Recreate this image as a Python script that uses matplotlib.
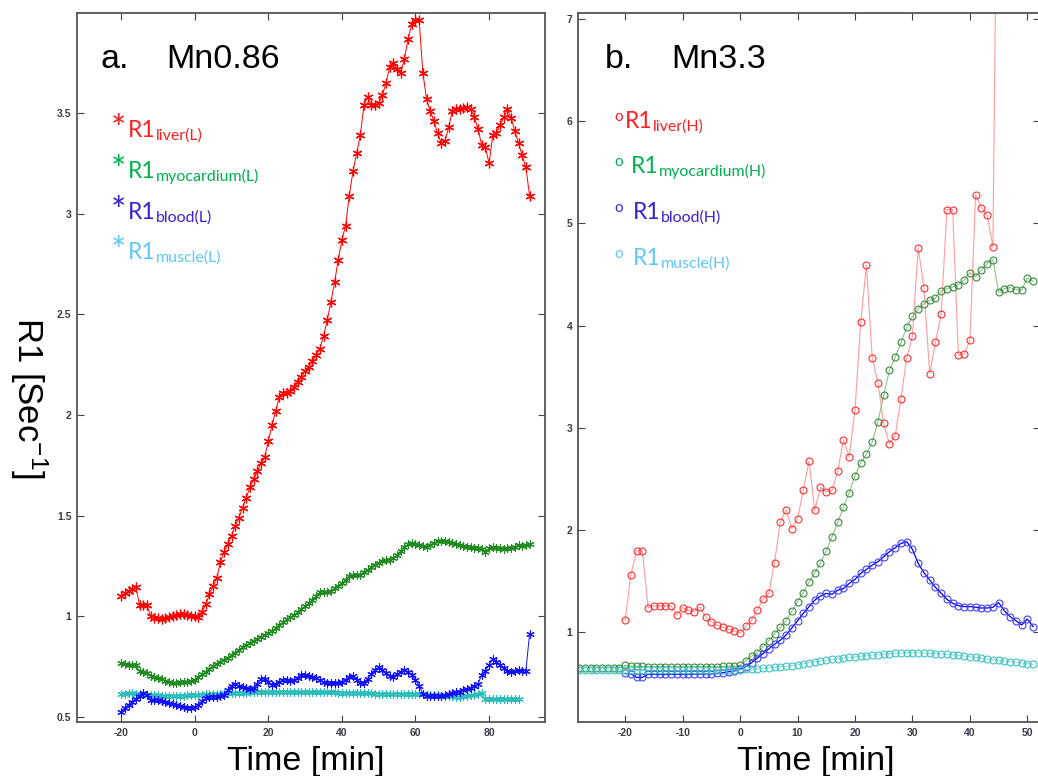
import numpy as np
import matplotlib
matplotlib.use("Agg")
import matplotlib.pyplot as plt

plt.rcParams['font.family'] = ['Liberation Sans', 'DejaVu Sans']
plt.rcParams['mathtext.default'] = 'regular'
plt.rcParams['axes.unicode_minus'] = False

# ---- Mn 0.86 (low dose), one sample per minute ----
t_low = np.arange(-20, 92)
t_low_muscle = np.arange(-20, 89)

liver_L = [1.10, 1.115, 1.125, 1.135, 1.145, 1.055, 1.055, 1.055, 1.00, 0.99,
           0.99, 0.985, 0.99, 0.995, 1.0, 1.005, 1.01, 1.01, 1.005, 1.0,
           1.0, 0.995, 1.02, 1.06, 1.11, 1.15, 1.19, 1.27, 1.32, 1.36,
           1.40, 1.45, 1.49, 1.54, 1.59, 1.64, 1.68, 1.72, 1.76, 1.79,
           1.87, 1.95, 2.02, 2.09, 2.11, 2.11, 2.12, 2.14, 2.165, 2.19,
           2.22, 2.24, 2.27, 2.30, 2.33, 2.39, 2.47, 2.56, 2.66, 2.77,
           2.87, 2.94, 3.09, 3.21, 3.30, 3.39, 3.54, 3.58, 3.54, 3.54,
           3.55, 3.59, 3.65, 3.73, 3.75, 3.72, 3.70, 3.77, 3.87, 3.94,
           3.96, 3.96, 3.70, 3.57, 3.51, 3.46, 3.40, 3.35, 3.36, 3.43,
           3.51, 3.52, 3.52, 3.525, 3.53, 3.52, 3.48, 3.42, 3.34, 3.33,
           3.25, 3.39, 3.40, 3.44, 3.48, 3.52, 3.475, 3.41, 3.35, 3.29,
           3.23, 3.09]

myocardium_L = [0.767, 0.763, 0.76, 0.76, 0.757, 0.727, 0.722, 0.72, 0.705, 0.70,
                0.695, 0.69, 0.68, 0.672, 0.67, 0.67, 0.672, 0.673, 0.675, 0.678,
                0.684, 0.698, 0.712, 0.725, 0.74, 0.753, 0.765, 0.775, 0.785, 0.795,
                0.808, 0.82, 0.834, 0.846, 0.857, 0.868, 0.877, 0.888, 0.898, 0.907,
                0.916, 0.927, 0.94, 0.955, 0.97, 0.985, 0.996, 1.008, 1.02, 1.035,
                1.05, 1.065, 1.081, 1.10, 1.12, 1.122, 1.12, 1.125, 1.14, 1.152,
                1.165, 1.18, 1.198, 1.205, 1.203, 1.207, 1.22, 1.23, 1.245, 1.257,
                1.266, 1.275, 1.28, 1.28, 1.29, 1.304, 1.325, 1.346, 1.357, 1.362,
                1.36, 1.355, 1.348, 1.346, 1.355, 1.365, 1.372, 1.375, 1.372, 1.368,
                1.362, 1.358, 1.352, 1.348, 1.346, 1.343, 1.34, 1.338, 1.334, 1.32,
                1.338, 1.342, 1.34, 1.338, 1.336, 1.338, 1.34, 1.345, 1.355, 1.35,
                1.352, 1.36]

blood_L = [0.527, 0.545, 0.56, 0.576, 0.59, 0.605, 0.618, 0.61, 0.585, 0.584,
           0.584, 0.578, 0.572, 0.568, 0.563, 0.558, 0.553, 0.548, 0.546, 0.546,
           0.548, 0.56, 0.578, 0.593, 0.60, 0.60, 0.60, 0.602, 0.61, 0.635,
           0.655, 0.665, 0.655, 0.648, 0.643, 0.64, 0.645, 0.665, 0.69, 0.69,
           0.672, 0.659, 0.665, 0.675, 0.684, 0.684, 0.678, 0.684, 0.695, 0.708,
           0.708, 0.703, 0.70, 0.692, 0.684, 0.675, 0.667, 0.667, 0.667, 0.67,
           0.675, 0.685, 0.697, 0.703, 0.684, 0.67, 0.667, 0.69, 0.715, 0.735,
           0.747, 0.735, 0.717, 0.705, 0.70, 0.712, 0.725, 0.733, 0.725, 0.708,
           0.684, 0.655, 0.615, 0.604, 0.604, 0.604, 0.605, 0.606, 0.608, 0.612,
           0.618, 0.622, 0.626, 0.632, 0.638, 0.645, 0.655, 0.665, 0.71, 0.73,
           0.76, 0.786, 0.775, 0.758, 0.742, 0.728, 0.725, 0.728, 0.733, 0.73,
           0.73, 0.912]

muscle_L = [0.615, 0.616, 0.617, 0.617, 0.616, 0.614, 0.612, 0.61, 0.609, 0.608,
            0.607, 0.606, 0.605, 0.604, 0.604, 0.604, 0.605, 0.606, 0.607, 0.608,
            0.609, 0.61, 0.611, 0.612, 0.613, 0.614, 0.615, 0.616, 0.617, 0.618,
            0.619, 0.62, 0.62, 0.621, 0.621, 0.622, 0.622, 0.622, 0.623, 0.623,
            0.623, 0.623, 0.624, 0.624, 0.624, 0.624, 0.624, 0.624, 0.624, 0.624,
            0.624, 0.624, 0.623, 0.623, 0.623, 0.622, 0.622, 0.622, 0.622, 0.621,
            0.621, 0.62, 0.62, 0.619, 0.619, 0.618, 0.618, 0.617, 0.617, 0.616,
            0.616, 0.616, 0.615, 0.615, 0.615, 0.615, 0.614, 0.614, 0.614, 0.614,
            0.613, 0.613, 0.612, 0.611, 0.61, 0.609, 0.608, 0.606, 0.604, 0.603,
            0.602, 0.601, 0.601, 0.602, 0.604, 0.607, 0.611, 0.615, 0.618, 0.588,
            0.587, 0.587, 0.587, 0.587, 0.587, 0.587, 0.587, 0.587, 0.588]

# ---- Mn 3.3 (high dose) ----
t_liver_H = np.arange(-20, 46)
t_myo_H = np.arange(-28, 52)
t_blood_H = np.arange(-20, 52)
t_muscle_H = np.arange(-28, 52)

liver_H = [1.117, 1.558, 1.796, 1.796, 1.238, 1.257, 1.257, 1.26, 1.257, 1.166,
           1.24, 1.215, 1.2, 1.247, 1.15, 1.101, 1.069, 1.046, 1.03, 1.013,
           0.987, 1.059, 1.117, 1.215, 1.32, 1.378, 1.68, 2.079, 2.2, 2.014,
           2.103, 2.389, 2.673, 2.194, 2.416, 2.373, 2.389, 2.578, 2.879, 2.716,
           3.17, 4.036, 4.591, 3.684, 3.443, 3.042, 2.84, 2.92, 3.286, 3.684,
           3.896, 4.764, 4.369, 3.531, 3.835, 4.109, 5.136, 5.136, 3.71, 3.726,
           3.857, 5.283, 5.155, 5.08, 4.77, 10.2]

myocardium_H = [0.651, 0.651, 0.651, 0.651, 0.651, 0.651, 0.651, 0.651,
                0.674, 0.668, 0.665, 0.664, 0.663, 0.662, 0.662, 0.662, 0.661, 0.661,
                0.661, 0.661, 0.661, 0.662, 0.662, 0.663, 0.663, 0.664, 0.665, 0.668,
                0.674, 0.72, 0.765, 0.8, 0.856, 0.915, 0.98, 1.046, 1.111, 1.205,
                1.296, 1.385, 1.489, 1.58, 1.678, 1.795, 1.932, 2.073, 2.226, 2.366,
                2.526, 2.657, 2.742, 2.862, 3.058, 3.319, 3.564, 3.688, 3.835, 3.982,
                4.092, 4.167, 4.216, 4.249, 4.272, 4.337, 4.363, 4.379, 4.402, 4.444,
                4.519, 4.477, 4.548, 4.607, 4.646, 4.33, 4.363, 4.372, 4.353, 4.346,
                4.467, 4.434]

blood_H = [0.596, 0.59, 0.557, 0.557, 0.586, 0.586, 0.586, 0.586, 0.586, 0.586,
           0.586, 0.587, 0.588, 0.589, 0.59, 0.592, 0.596, 0.603, 0.612, 0.62,
           0.634, 0.662, 0.7, 0.745, 0.79, 0.835, 0.88, 0.92, 0.97, 1.04,
           1.11, 1.183, 1.248, 1.313, 1.353, 1.378, 1.37, 1.411, 1.427, 1.476,
           1.516, 1.574, 1.614, 1.656, 1.689, 1.738, 1.787, 1.826, 1.868, 1.885,
           1.81, 1.673, 1.582, 1.51, 1.438, 1.38, 1.321, 1.282, 1.259, 1.25,
           1.25, 1.243, 1.236, 1.236, 1.243, 1.288, 1.21, 1.151, 1.112, 1.07,
           1.128, 1.053]

muscle_H = [0.628] * 28 + [
    0.632, 0.635, 0.638, 0.642, 0.646, 0.651, 0.656, 0.661, 0.666, 0.672,
    0.681, 0.69, 0.699, 0.708, 0.717, 0.725, 0.732, 0.739, 0.746, 0.752,
    0.758, 0.764, 0.769, 0.774, 0.779, 0.784, 0.788, 0.792, 0.796, 0.798,
    0.798, 0.797, 0.795, 0.793, 0.79, 0.787, 0.783, 0.778, 0.772, 0.766,
    0.759, 0.752, 0.745, 0.738, 0.731, 0.724, 0.717, 0.71, 0.704, 0.698,
    0.692, 0.684]

W, H = 1038, 776
fig = plt.figure(figsize=(W / 100, H / 100), dpi=100)


def fx(px):
    return px / W


def fy(py):
    return 1 - py / H


ax1 = fig.add_axes([fx(77), fy(722), 468 / W, 709 / H])
ax2 = fig.add_axes([fx(578), fy(722), 462 / W, 709 / H])

# matlab-like asterisk: six thin arms
ast = (6, 2, 0)

# left panel
ax1.plot(t_low, liver_L, '-', color='#ff0000', lw=0.7, marker=ast, ms=7, mew=0.9)
ax1.plot(t_low, myocardium_L, '-', color='#1f8a1f', lw=0.7, marker=ast, ms=6, mew=0.8)
ax1.plot(t_low_muscle, muscle_L, '-', color='#2cbcbc', lw=0.7, marker=ast, ms=6, mew=0.8)
ax1.plot(t_low, blood_L, '-', color='#1010ff', lw=0.7, marker=ast, ms=6, mew=0.8)

# right panel: open circles
ax2.plot(t_liver_H, liver_H, '-', color='#ff9c9c', lw=0.8, marker='o', ms=5,
         mfc='none', mec='#ff3030', mew=0.8)
ax2.plot(t_myo_H, myocardium_H, '-', color='#8cc08c', lw=0.8, marker='o', ms=5,
         mfc='none', mec='#3a8a3a', mew=0.8)
ax2.plot(t_blood_H, blood_H, '-', color='#0000e0', lw=0.9, marker='o', ms=5,
         mfc='none', mec='#4040ff', mew=0.8)
ax2.plot(t_muscle_H, muscle_H, '-', color='#7fd8d8', lw=0.6, marker='o', ms=5,
         mfc='none', mec='#3cc3c3', mew=0.8)

ax1.set_xlim(-32, 95.2)
ax1.set_ylim(0.475, 3.997)
ax1.set_xticks([-20, 0, 20, 40, 60, 80])
ax1.set_yticks([0.5, 1, 1.5, 2, 2.5, 3, 3.5])
ax1.set_yticklabels(['0.5', '1', '1.5', '2', '2.5', '3', '3.5'])

ax2.set_xlim(-28.2, 52.2)
ax2.set_ylim(0.12, 7.06)
ax2.set_xticks([-20, -10, 0, 10, 20, 30, 40, 50])
ax2.set_yticks([1, 2, 3, 4, 5, 6, 7])

for ax in (ax1, ax2):
    ax.tick_params(direction='in', length=5, width=0.8, top=True, right=True,
                   labelsize=7.5, labelcolor='#3a3a4a', color='#444444', pad=4)
    for lab in ax.get_xticklabels() + ax.get_yticklabels():
        lab.set_fontweight('bold')
    for s in ax.spines.values():
        s.set_color('#555555')
        s.set_linewidth(1.3)

# axis titles
fig.text(fx(306), fy(770), 'Time [min]', fontsize=24.5, ha='center', va='baseline')
fig.text(fx(816), fy(770), 'Time [min]', fontsize=24.5, ha='center', va='baseline')
fig.text(fx(29), fy(398), r'R1 [Sec$^{-1}$]', fontsize=25, rotation=270,
         ha='center', va='center')

# panel headings
fig.text(fx(100), fy(68), 'a.', fontsize=24.5, va='baseline')
fig.text(fx(166), fy(68), 'Mn0.86', fontsize=24.5, va='baseline')
fig.text(fx(605), fy(68), 'b.', fontsize=24.5, va='baseline')
fig.text(fx(671), fy(68), 'Mn3.3', fontsize=24.5, va='baseline')

# hand-made keys
key_colors = ['#ff1f1f', '#00b050', '#3a20d6', '#5fc8f8']
names_L = ['liver(L)', 'myocardium(L)', 'blood(L)', 'muscle(L)']
names_H = ['liver(H)', 'myocardium(H)', 'blood(H)', 'muscle(H)']
base_L = [137, 178, 219, 259]
base_H = [128, 173, 219, 265]
r1_x_H = [625, 631, 633, 633]

for name, c, b in zip(names_L, key_colors, base_L):
    fig.text(fx(111), fy(b + 4), '*', fontsize=26, color=c, va='baseline', family='Lato')
    fig.text(fx(128), fy(b), 'R1', fontsize=16.5, color=c, va='baseline', family='Lato')
    fig.text(fx(156), fy(b + 3), name, fontsize=11.5, color=c, va='baseline', family='Lato')

for name, c, b, x0 in zip(names_H, key_colors, base_H, r1_x_H):
    fig.text(fx(614), fy(b - 7), 'o', fontsize=11, color=c, va='baseline', family='Lato')
    fig.text(fx(x0), fy(b), 'R1', fontsize=16.5, color=c, va='baseline', family='Lato')
    fig.text(fx(x0 + 28), fy(b + 3), name, fontsize=11.5, color=c, va='baseline', family='Lato')

fig.savefig('out.png', dpi=100)
